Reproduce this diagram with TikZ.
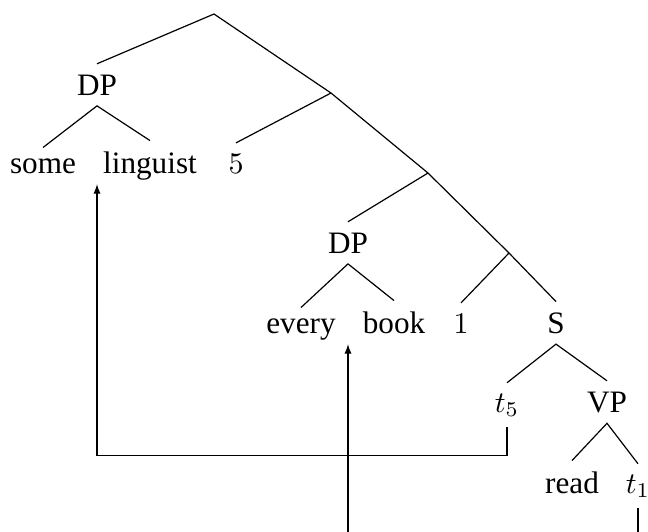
\documentclass[tikz,border=0pt]{standalone}
\usepackage{fontspec}
\setmainfont{Liberation Serif}
\usetikzlibrary{arrows.meta}
\begin{document}
\begin{tikzpicture}[x=0.333333pt,y=-0.333333pt,
  tn/.style={anchor=base,inner xsep=0pt,inner ysep=3.4pt,font=\fontsize{10.4}{12}\selectfont},
  br/.style={line width=0.4pt},
  mv/.style={line width=0.4pt,-{Latex[length=3.2pt,width=2.4pt]}}]
\clip (0,0) rectangle (648,531);
\useasboundingbox (0,0) rectangle (648,531);
% branching points
\coordinate (root) at (214,14);
\coordinate (n1) at (331,93);
\coordinate (n2) at (428,173);
\coordinate (n3) at (509,253);
% labelled nodes
\node[tn] (DP1) at (97,95) {DP};
\node[tn] (some) at (43,173) {some};
\node[tn] (ling) at (150,173) {linguist};
\node[tn] (five) at (236,173) {$5$};
\node[tn] (DP2) at (348,253) {DP};
\node[tn] (every) at (301,333) {every};
\node[tn] (book) at (394,333) {book};
\node[tn] (one) at (461,333) {$1$};
\node[tn] (S) at (556,333) {S};
\node[tn] (t5) at (507,412) {$t_5$};
\node[tn] (VP) at (607,412) {VP};
\node[tn] (read) at (572,493) {read};
\node[tn] (t1) at (638,493) {$t_1$};
% branches
\draw[br] (DP1.north) -- (root) -- (n1) -- (n2) -- (n3) -- (S.north);
\draw[br] (n1) -- (five.north);
\draw[br] (n2) -- (DP2.north);
\draw[br] (n3) -- (one.north);
\draw[br] (some.north) -- (DP1.south) -- (ling.north);
\draw[br] (every.north) -- (DP2.south) -- (book.north);
\draw[br] (t5.north) -- (S.south) -- (VP.north);
\draw[br] (read.north) -- (VP.south) -- (t1.north);
% movement
\draw[mv] (t5.south) -- ++(0,28) -| (DP1 |- some.south);
\draw[mv] (t1.south) -- (t1.south |- 0,560) -| (DP2 |- book.south);
\end{tikzpicture}
\end{document}
